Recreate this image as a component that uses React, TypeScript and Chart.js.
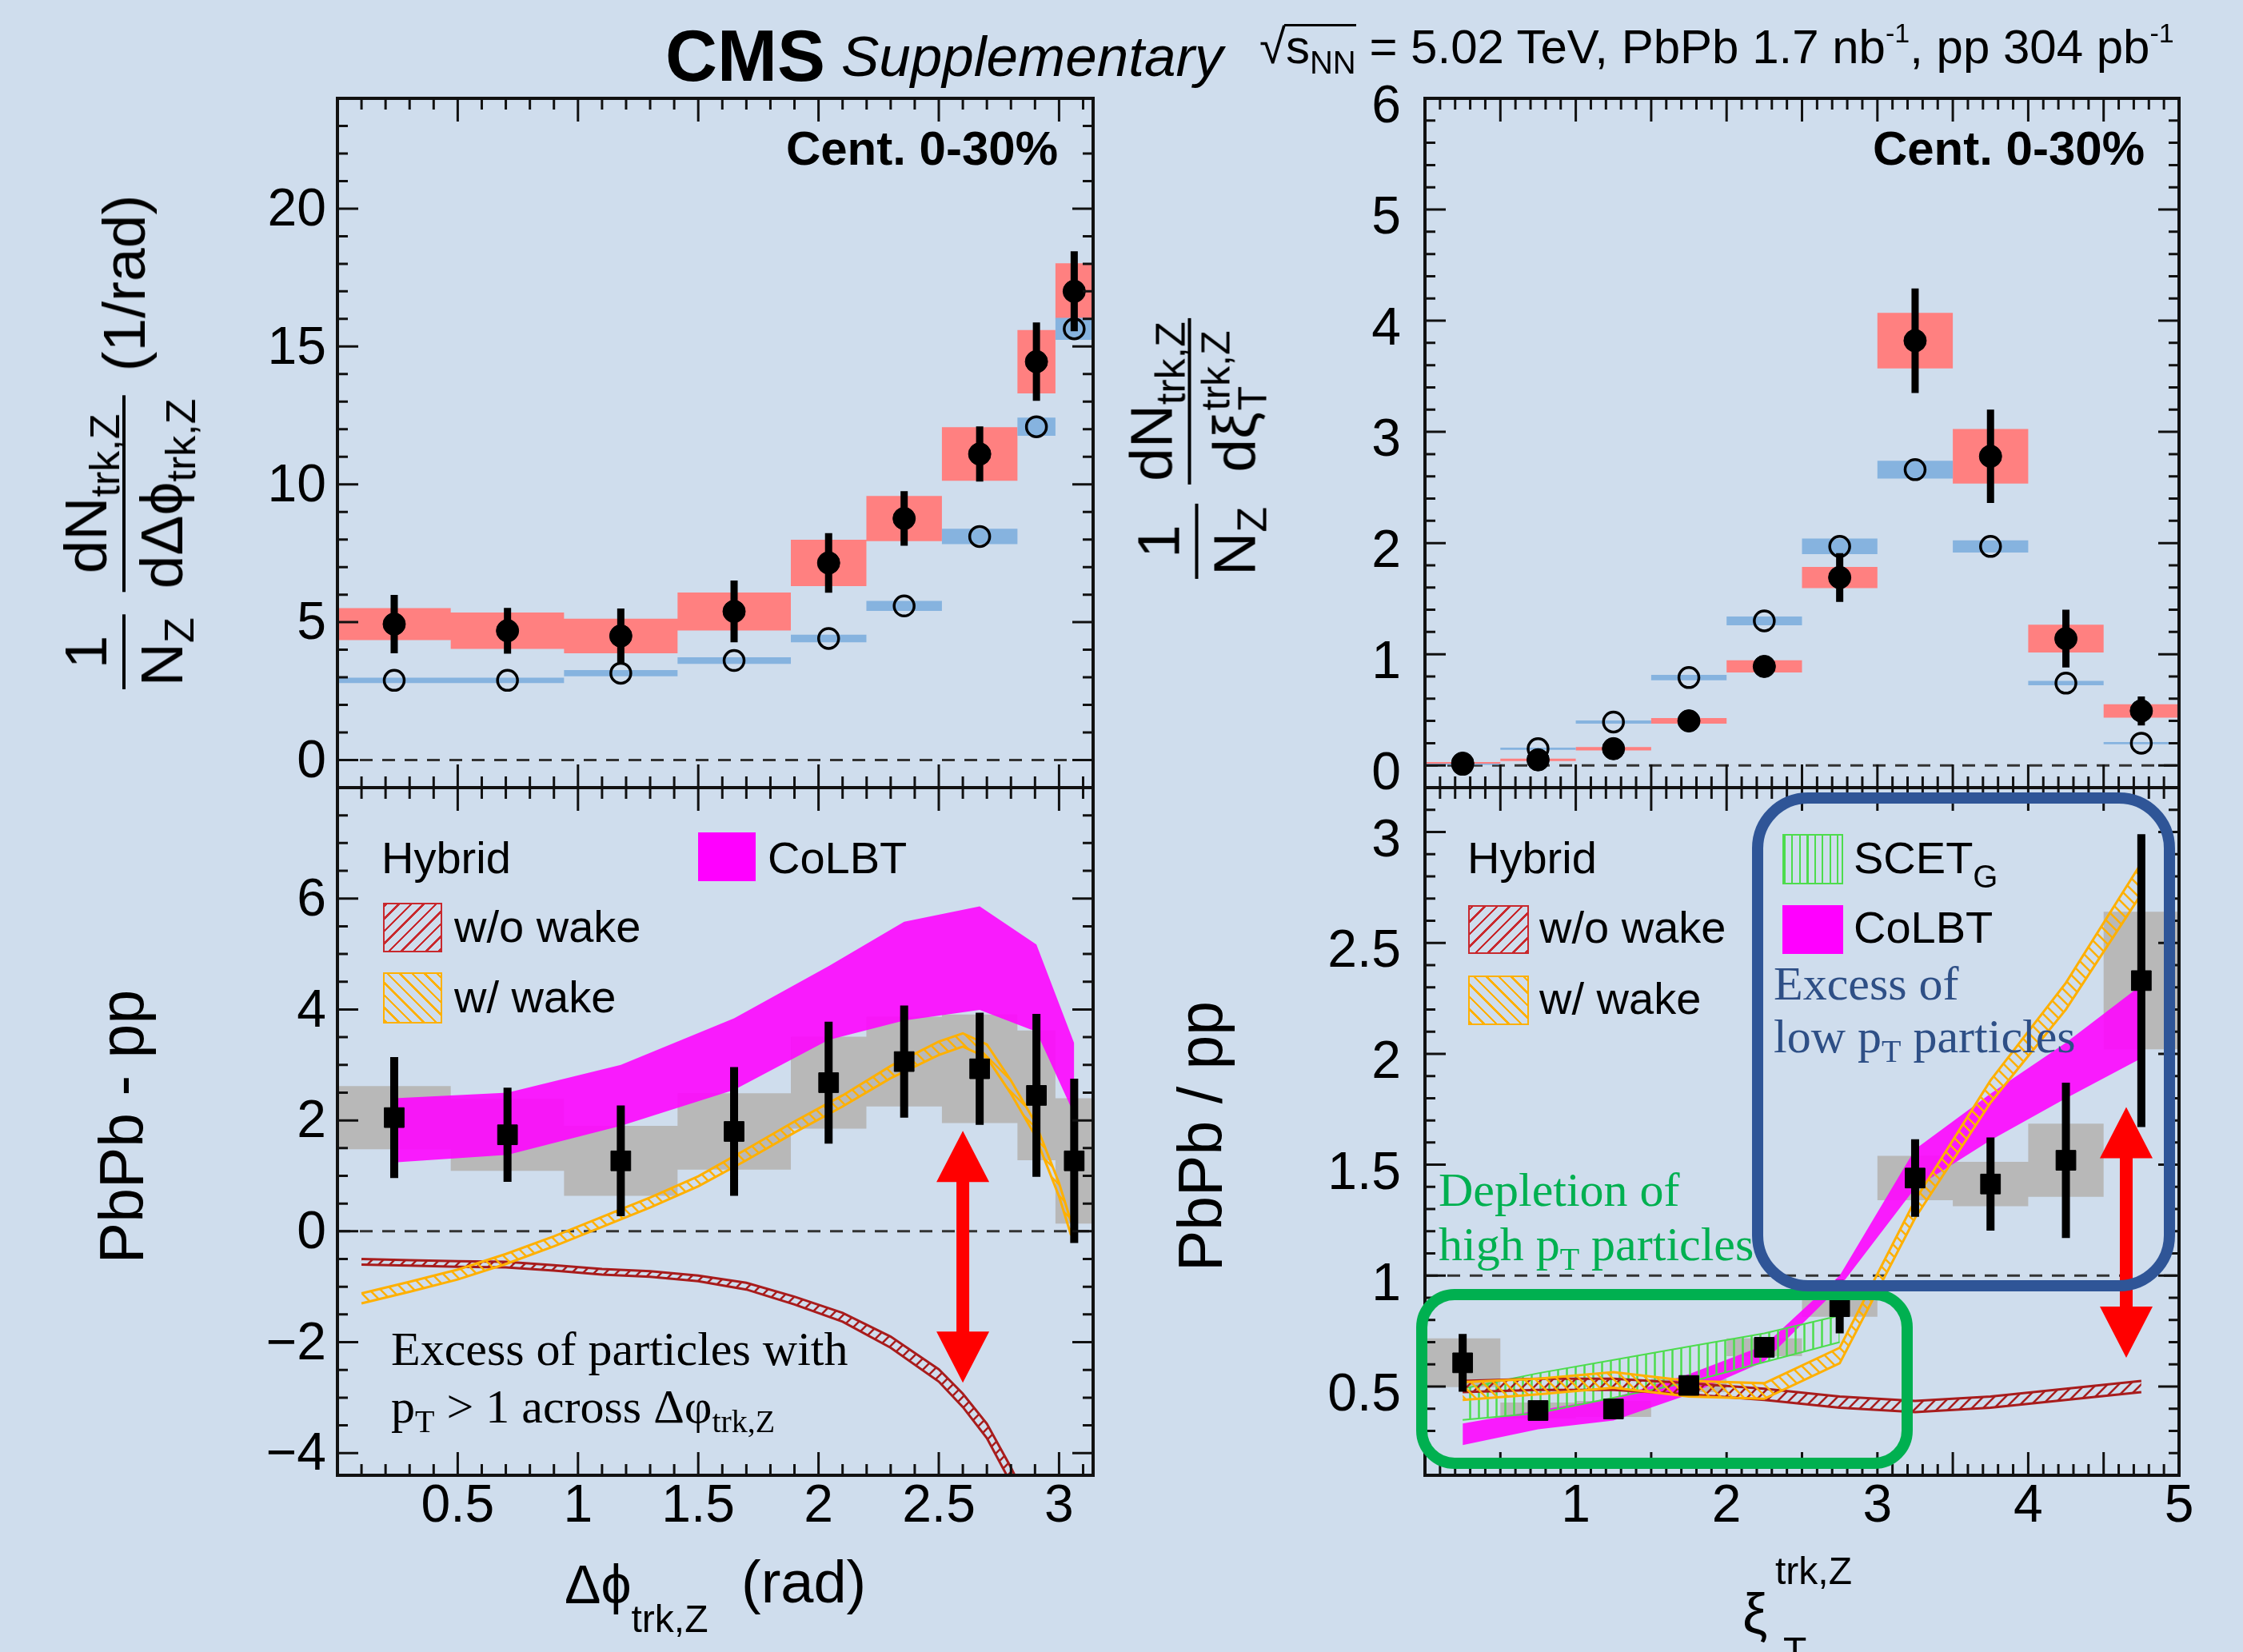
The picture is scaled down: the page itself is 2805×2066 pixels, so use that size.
import React, { useEffect, useRef } from 'react';
import { Chart, registerables } from 'chart.js';

Chart.register(...registerables);

const W = 2805;
const H = 2066;
const SANS = '"Liberation Sans", Arial, Helvetica, sans-serif';
const SERIF = '"Liberation Serif", "Times New Roman", serif';
const BG = '#cfdded';

// ---------------- Δφ (left) panels ----------------
const dphiBinEdges = [0, 0.471, 0.942, 1.414, 1.885, 2.199, 2.513, 2.827, 2.985, 3.1416];
const dphiBinCenters = [0.236, 0.707, 1.178, 1.649, 2.042, 2.356, 2.67, 2.906, 3.063];
const dphiPbPb = [4.93, 4.69, 4.5, 5.39, 7.15, 8.76, 11.1, 14.45, 17.0];
const dphiPbPbStat = [1.06, 0.83, 1.0, 1.12, 1.08, 0.99, 1.0, 1.42, 1.45];
const dphiPbPbSyst = [0.58, 0.66, 0.63, 0.69, 0.84, 0.82, 0.97, 1.15, 1.02];
const dphiPP = [2.89, 2.89, 3.15, 3.61, 4.41, 5.59, 8.11, 12.09, 15.64];
const dphiPPSyst = [0.1, 0.1, 0.11, 0.12, 0.14, 0.18, 0.28, 0.33, 0.4];

const dphiDiff = [2.05, 1.74, 1.27, 1.8, 2.68, 3.06, 2.93, 2.45, 1.27];
const dphiDiffStat = [1.09, 0.85, 1.0, 1.16, 1.1, 1.01, 1.01, 1.47, 1.48];
const dphiDiffSyst = [0.57, 0.65, 0.63, 0.69, 0.83, 0.81, 0.98, 1.17, 1.13];
const dphiColbtHigh = [2.4, 2.5, 3.0, 3.84, 4.78, 5.58, 5.86, 5.17, 3.39];
const dphiColbtLow = [1.24, 1.38, 1.9, 2.55, 3.45, 3.8, 3.99, 3.6, 2.11];

const hybridPhiX = [0.1, 0.3, 0.5, 0.7, 0.9, 1.1, 1.3, 1.5, 1.7, 1.9, 2.1, 2.3, 2.5, 2.6, 2.7, 2.8, 2.9, 3.0, 3.05];
const hybridPhiWake = [-1.21, -1.0, -0.78, -0.5, -0.18, 0.17, 0.52, 0.9, 1.38, 1.88, 2.35, 2.87, 3.3, 3.45, 3.25, 2.6, 1.85, 0.75, 0.05];
const hybridPhiWakeErr = [0.09, 0.09, 0.09, 0.09, 0.09, 0.09, 0.09, 0.09, 0.1, 0.1, 0.1, 0.11, 0.12, 0.12, 0.12, 0.12, 0.12, 0.12, 0.12];
const hybridPhiNoWake = [-0.55, -0.57, -0.59, -0.6, -0.66, -0.73, -0.77, -0.85, -0.99, -1.25, -1.55, -2.0, -2.6, -3.05, -3.6, -4.4, -5.3, -6.3, -6.8];
const hybridPhiNoWakeErr = [0.05, 0.05, 0.05, 0.05, 0.05, 0.05, 0.05, 0.05, 0.06, 0.07, 0.08, 0.1, 0.11, 0.12, 0.13, 0.14, 0.15, 0.16, 0.16];

const dphiArrow = { x: 2.6, from: 1.81, to: -2.73 };

// ---------------- ξ (right) panels ----------------
const xiBinEdges = [0, 0.5, 1, 1.5, 2, 2.5, 3, 3.5, 4, 4.5, 5];
const xiBinCenters = [0.25, 0.75, 1.25, 1.75, 2.25, 2.75, 3.25, 3.75, 4.25, 4.75];
const xiPbPb = [0.02, 0.05, 0.15, 0.4, 0.89, 1.69, 3.82, 2.78, 1.14, 0.49];
const xiPbPbStat = [0.01, 0.02, 0.03, 0.04, 0.06, 0.22, 0.47, 0.42, 0.26, 0.13];
const xiPbPbSyst = [0.01, 0.01, 0.015, 0.025, 0.055, 0.095, 0.25, 0.245, 0.125, 0.06];
const xiPP = [0.01, 0.15, 0.39, 0.79, 1.3, 1.97, 2.66, 1.97, 0.74, 0.2];
const xiPPSyst = [0.005, 0.01, 0.015, 0.025, 0.04, 0.07, 0.08, 0.055, 0.02, 0.01];

const xiRatio = [0.607, 0.392, 0.399, 0.505, 0.677, 0.86, 1.44, 1.413, 1.52, 2.33];
const xiRatioStat = [0.13, 0.02, 0.02, 0.02, 0.04, 0.12, 0.175, 0.21, 0.35, 0.66];
const xiRatioSyst = [0.11, 0.036, 0.036, 0.03, 0.04, 0.045, 0.1, 0.1, 0.165, 0.31];
const xiColbtHigh = [0.333, 0.393, 0.45, 0.556, 0.686, 1.0, 1.57, 1.82, 2.05, 2.31];
const xiColbtLow = [0.236, 0.307, 0.347, 0.464, 0.613, 0.95, 1.395, 1.61, 1.8, 1.98];
const scetX = [0.25, 0.75, 1.25, 1.75, 2.25, 2.75];
const scetHigh = [0.49, 0.56, 0.62, 0.68, 0.74, 0.82];
const scetLow = [0.35, 0.38, 0.45, 0.52, 0.61, 0.7];
const xiHybridWake = [0.48, 0.5, 0.53, 0.49, 0.48, 0.64, 1.3, 1.83, 2.26, 2.79];
const xiHybridWakeErr = [0.04, 0.035, 0.035, 0.035, 0.035, 0.035, 0.04, 0.05, 0.06, 0.07];
const xiHybridNoWake = [0.5, 0.51, 0.51, 0.49, 0.465, 0.43, 0.41, 0.43, 0.465, 0.5];
const xiHybridNoWakeErr = [0.025, 0.025, 0.025, 0.025, 0.025, 0.025, 0.025, 0.025, 0.025, 0.025];

const xiArrow = { x: 4.65, from: 1.76, to: 0.63 };

// ---------------- axes ----------------
const dphiXRange = [0, 3.1416];
const xiXRange = [0, 5];
const dphiYRange = [-1, 24];
const xiYRange = [-0.2, 6];
const diffYRange = [-4.4, 8];
const ratioYRange = [0.1, 3.2];
const dphiXTickLabels = [0.5, 1, 1.5, 2, 2.5, 3];
const xiXTickLabels = [1, 2, 3, 4, 5];
const dphiYTickLabels = [0, 5, 10, 15, 20];
const xiYTickLabels = [0, 1, 2, 3, 4, 5, 6];
const diffYTickLabels = [-4, -2, 0, 2, 4, 6];
const ratioYTickLabels = [0.5, 1, 1.5, 2, 2.5, 3];

// ---------------- colors ----------------
const RED_BOX = '#ff8080';
const BLUE_BOX = '#86b3df';
const GRAY_BOX = '#b8b8b8';
const MAGENTA = 'rgba(255,0,255,0.88)';
const NOWAKE = '#a81c1c';
const WAKE = '#ffb000';
const SCET = '#4ddc4d';

// ---------------- geometry ----------------
const GX = { L0: 422, L1: 1367, R0: 1782, R1: 2725, T0: 123, M: 985, B1: 1845 };
const ML = 180;
const MT = 110;
const MR = 60;

function canvasBox(x0: number, x1: number, y0: number, y1: number, mb: number) {
  return { left: x0 - ML, top: y0 - MT, width: x1 - x0 + ML + MR, height: y1 - y0 + MT + mb };
}

const BOX_TL = canvasBox(GX.L0, GX.L1, GX.T0, GX.M, 110);
const BOX_TR = canvasBox(GX.R0, GX.R1, GX.T0, GX.M, 110);
const BOX_BL = canvasBox(GX.L0, GX.L1, GX.M, GX.B1, 150);
const BOX_BR = canvasBox(GX.R0, GX.R1, GX.M, GX.B1, 150);

// ---------------- helpers ----------------
function stepPoints(edges: number[], vals: number[]) {
  const pts: any[] = [];
  vals.forEach((v, i) => {
    pts.push({ x: edges[i], y: v }, { x: edges[i + 1], y: v });
  });
  return pts;
}

function boxPair(edges: number[], center: number[], half: number[], color: any, order: number) {
  return [
    { data: stepPoints(edges, center.map((c, i) => c + half[i])), borderColor: 'transparent', borderWidth: 0, pointRadius: 0, fill: false, order },
    { data: stepPoints(edges, center.map((c, i) => c - half[i])), borderColor: 'transparent', borderWidth: 0, pointRadius: 0, backgroundColor: color, fill: '-1', order },
  ];
}

function bandPair(xs: number[], hi: number[], lo: number[], fillColor: any, lineColor: string, lw: number, order: number) {
  return [
    { data: xs.map((x, i) => ({ x, y: hi[i] })), borderColor: lineColor, borderWidth: lw, pointRadius: 0, fill: false, order },
    { data: xs.map((x, i) => ({ x, y: lo[i] })), borderColor: lineColor, borderWidth: lw, pointRadius: 0, backgroundColor: fillColor, fill: '-1', order },
  ];
}

function errorBars(xs: number[], ys: number[], err: number[], width: number, order: number) {
  const pts: any[] = [];
  xs.forEach((x, i) => {
    pts.push({ x, y: ys[i] - err[i] }, { x, y: ys[i] + err[i] }, { x, y: null });
  });
  return { data: pts, borderColor: '#000', borderWidth: width, pointRadius: 0, fill: false, spanGaps: false, borderCapStyle: 'butt', order };
}

function markers(xs: number[], ys: number[], style: string, radius: number, open: boolean, order: number) {
  return {
    data: xs.map((x, i) => ({ x, y: ys[i] })),
    showLine: false,
    pointStyle: style,
    pointRadius: radius,
    pointBackgroundColor: open ? 'rgba(0,0,0,0)' : '#000',
    pointBorderColor: '#000',
    pointBorderWidth: open ? 3.5 : 1,
    order,
  };
}

function refLine(y: number, range: number[], order: number) {
  return {
    data: [{ x: range[0], y }, { x: range[1], y }],
    borderColor: '#333',
    borderWidth: 3,
    borderDash: [16, 12],
    pointRadius: 0,
    fill: false,
    order,
  };
}

function makeHatch(color: string, kind: string, s: number, lw: number) {
  const c = document.createElement('canvas');
  c.width = s;
  c.height = s;
  const g = c.getContext('2d')!;
  g.strokeStyle = color;
  g.lineWidth = lw;
  g.beginPath();
  if (kind === 'v') {
    g.moveTo(s / 2, 0);
    g.lineTo(s / 2, s);
  } else if (kind === '/') {
    g.moveTo(0, s); g.lineTo(s, 0);
    g.moveTo(-2, 2); g.lineTo(2, -2);
    g.moveTo(s - 2, s + 2); g.lineTo(s + 2, s - 2);
  } else {
    g.moveTo(0, 0); g.lineTo(s, s);
    g.moveTo(-2, s - 2); g.lineTo(2, s + 2);
    g.moveTo(s - 2, -2); g.lineTo(s + 2, 2);
  }
  g.stroke();
  return g.createPattern(c, 'repeat');
}

const framePlugin = {
  id: 'rootFrame',
  afterDatasetsDraw(chart: any, _args: any, opts: any) {
    const { ctx, chartArea: a, scales } = chart;
    const xs = scales.x;
    const ys = scales.y;
    const each = (min: number, max: number, step: number, fn: (v: number) => void) => {
      const i0 = Math.ceil(min / step - 1e-6);
      const i1 = Math.floor(max / step + 1e-6);
      for (let i = i0; i <= i1; i++) fn(i * step);
    };
    const isMajor = (v: number, m: number) => Math.abs(v / m - Math.round(v / m)) < 1e-6;
    ctx.save();
    ctx.strokeStyle = '#111';
    ctx.lineWidth = 3;
    ctx.setLineDash([]);
    ctx.beginPath();
    each(xs.min, xs.max, opts.xMinor, (v) => {
      const len = isMajor(v, opts.xMajor) ? 29 : 14;
      const px = xs.getPixelForValue(v);
      if (px <= a.left + 2 || px >= a.right - 2) return;
      ctx.moveTo(px, a.bottom); ctx.lineTo(px, a.bottom - len);
      ctx.moveTo(px, a.top); ctx.lineTo(px, a.top + len);
    });
    each(ys.min, ys.max, opts.yMinor, (v) => {
      const len = isMajor(v, opts.yMajor) ? 26 : 13;
      const py = ys.getPixelForValue(v);
      if (py <= a.top + 2 || py >= a.bottom - 2) return;
      ctx.moveTo(a.left, py); ctx.lineTo(a.left + len, py);
      ctx.moveTo(a.right, py); ctx.lineTo(a.right - len, py);
    });
    ctx.stroke();
    ctx.lineWidth = 4;
    ctx.strokeRect(a.left, a.top, a.right - a.left, a.bottom - a.top);
    ctx.restore();
  },
};

const arrowPlugin = {
  id: 'redArrow',
  afterDatasetsDraw(chart: any, _args: any, opts: any) {
    if (!opts || opts.x === undefined || opts.x === null) return;
    const { ctx, scales } = chart;
    const px = scales.x.getPixelForValue(opts.x);
    const p1 = scales.y.getPixelForValue(opts.from);
    const p2 = scales.y.getPixelForValue(opts.to);
    const hw = 33;
    const hh = 64;
    const sw = 8;
    ctx.save();
    ctx.fillStyle = '#ff0000';
    ctx.beginPath();
    ctx.moveTo(px, p1);
    ctx.lineTo(px + hw, p1 + hh);
    ctx.lineTo(px + sw, p1 + hh);
    ctx.lineTo(px + sw, p2 - hh);
    ctx.lineTo(px + hw, p2 - hh);
    ctx.lineTo(px, p2);
    ctx.lineTo(px - hw, p2 - hh);
    ctx.lineTo(px - sw, p2 - hh);
    ctx.lineTo(px - sw, p1 + hh);
    ctx.lineTo(px - hw, p1 + hh);
    ctx.closePath();
    ctx.fill();
    ctx.restore();
  },
};

const fmt = (v: number) => {
  const r = Math.round(v * 100) / 100;
  return r < 0 ? '\u2212' + String(Math.abs(r)) : String(r);
};

function buildOptions(p: any) {
  return {
    animation: false,
    responsive: false,
    maintainAspectRatio: false,
    events: [],
    layout: { padding: { top: MT, right: MR, left: 0, bottom: 0 } },
    plugins: {
      legend: { display: false },
      tooltip: { enabled: false },
      rootFrame: p.frame,
      redArrow: p.arrow || {},
    },
    scales: {
      x: {
        type: 'linear',
        min: p.xRange[0],
        max: p.xRange[1],
        border: { display: false },
        grid: { display: false, drawTicks: false },
        afterBuildTicks: (s: any) => { s.ticks = p.xTicks.map((v: number) => ({ value: v })); },
        afterFit: (s: any) => { s.height = p.mb; },
        ticks: {
          display: p.showX,
          autoSkip: false,
          maxRotation: 0,
          minRotation: 0,
          padding: 0,
          color: '#000',
          font: { family: SANS, size: 66 },
          callback: fmt,
        },
      },
      y: {
        type: 'linear',
        min: p.yRange[0],
        max: p.yRange[1],
        border: { display: false },
        grid: { display: false, drawTicks: false },
        afterBuildTicks: (s: any) => { s.ticks = p.yTicks.map((v: number) => ({ value: v })); },
        afterFit: (s: any) => { s.width = ML; },
        ticks: {
          autoSkip: false,
          padding: p.yPad,
          labelOffset: p.yOff,
          color: '#000',
          font: { family: SANS, size: 66 },
          callback: fmt,
        },
      },
    },
  };
}

// ---------------- text helpers ----------------
const Txt = (props: any) => {
  const { x, base, size, serif, bold, italic, color = '#000', right, children } = props;
  const k = serif ? 0.838 : 0.846;
  const style: any = {
    position: 'absolute',
    top: base - k * size,
    fontSize: size,
    lineHeight: `${size}px`,
    fontFamily: serif ? SERIF : SANS,
    fontWeight: bold ? 700 : 400,
    fontStyle: italic ? 'italic' : 'normal',
    color,
    whiteSpace: 'nowrap',
  };
  if (right) style.right = W - x; else style.left = x;
  return <div style={style}>{children}</div>;
};

const Sh = ({ fs, dy, children }: any) => (
  <span style={{ fontSize: fs, position: 'relative', top: dy, lineHeight: 0 }}>{children}</span>
);

const Frac = ({ num, den }: any) => (
  <span style={{ display: 'inline-flex', flexDirection: 'column', alignItems: 'center' }}>
    <span style={{ padding: '0 4px 8px' }}>{num}</span>
    <span style={{ alignSelf: 'stretch', height: 4, background: '#000' }} />
    <span style={{ padding: '8px 4px 0' }}>{den}</span>
  </span>
);

const RotTitle = ({ cx, cy, size, children }: any) => (
  <div
    style={{
      position: 'absolute',
      left: cx,
      top: cy,
      transform: 'translate(-50%, -50%) rotate(-90deg)',
      display: 'flex',
      alignItems: 'center',
      fontFamily: SANS,
      fontSize: size,
      lineHeight: `${size}px`,
      whiteSpace: 'nowrap',
      color: '#000',
    }}
  >
    {children}
  </div>
);

const Swatch = ({ x, y, w, h, bg, border }: any) => (
  <div
    style={{
      position: 'absolute',
      left: x,
      top: y,
      width: w,
      height: h,
      boxSizing: 'border-box',
      background: bg,
      border: border ? `2.5px solid ${border}` : 'none',
    }}
  />
);

const RoundBox = ({ x0, y0, x1, y1, lw, r, color }: any) => (
  <div
    style={{
      position: 'absolute',
      left: x0 - lw / 2,
      top: y0 - lw / 2,
      width: x1 - x0 + lw,
      height: y1 - y0 + lw,
      boxSizing: 'border-box',
      border: `${lw}px solid ${color}`,
      borderRadius: r,
    }}
  />
);

const canvasStyle = (b: any): any => ({ position: 'absolute', left: b.left, top: b.top, width: b.width, height: b.height });

export default function App() {
  const tl = useRef<HTMLCanvasElement>(null);
  const tr = useRef<HTMLCanvasElement>(null);
  const bl = useRef<HTMLCanvasElement>(null);
  const br = useRef<HTMLCanvasElement>(null);

  useEffect(() => {
    Chart.defaults.font.family = SANS;
    const hatchNoWake = makeHatch(NOWAKE, '/', 14, 2.5);
    const hatchWake = makeHatch(WAKE, '\\', 14, 2.5);
    const hatchScet = makeHatch(SCET, 'v', 11, 2.5);
    const charts: Chart[] = [];

    const tlSets = [
      refLine(0, dphiXRange, 95),
      ...boxPair(dphiBinEdges, dphiPbPb, dphiPbPbSyst, RED_BOX, 80),
      ...boxPair(dphiBinEdges, dphiPP, dphiPPSyst, BLUE_BOX, 70),
      errorBars(dphiBinCenters, dphiPbPb, dphiPbPbStat, 9, 20),
      markers(dphiBinCenters, dphiPP, 'circle', 12.5, true, 15),
      markers(dphiBinCenters, dphiPbPb, 'circle', 14, false, 10),
    ];
    const trSets = [
      refLine(0, xiXRange, 95),
      ...boxPair(xiBinEdges, xiPbPb, xiPbPbSyst, RED_BOX, 80),
      ...boxPair(xiBinEdges, xiPP, xiPPSyst, BLUE_BOX, 70),
      errorBars(xiBinCenters, xiPbPb, xiPbPbStat, 9, 20),
      markers(xiBinCenters, xiPP, 'circle', 12.5, true, 15),
      markers(xiBinCenters, xiPbPb, 'circle', 14, false, 10),
    ];
    const blSets = [
      ...boxPair(dphiBinEdges, dphiDiff, dphiDiffSyst, GRAY_BOX, 100),
      refLine(0, dphiXRange, 95),
      ...bandPair(dphiBinCenters, dphiColbtHigh, dphiColbtLow, MAGENTA, 'transparent', 0, 90),
      ...bandPair(hybridPhiX, hybridPhiNoWake.map((v, i) => v + hybridPhiNoWakeErr[i]), hybridPhiNoWake.map((v, i) => v - hybridPhiNoWakeErr[i]), hatchNoWake, NOWAKE, 3, 70),
      ...bandPair(hybridPhiX, hybridPhiWake.map((v, i) => v + hybridPhiWakeErr[i]), hybridPhiWake.map((v, i) => v - hybridPhiWakeErr[i]), hatchWake, WAKE, 3, 60),
      errorBars(dphiBinCenters, dphiDiff, dphiDiffStat, 10, 20),
      markers(dphiBinCenters, dphiDiff, 'rect', 17.5, false, 10),
    ];
    const brSets = [
      ...boxPair(xiBinEdges, xiRatio, xiRatioSyst, GRAY_BOX, 100),
      refLine(1, xiXRange, 95),
      ...bandPair(xiBinCenters, xiColbtHigh, xiColbtLow, MAGENTA, 'transparent', 0, 90),
      ...bandPair(scetX, scetHigh, scetLow, hatchScet, SCET, 2, 80),
      ...bandPair(xiBinCenters, xiHybridNoWake.map((v, i) => v + xiHybridNoWakeErr[i]), xiHybridNoWake.map((v, i) => v - xiHybridNoWakeErr[i]), hatchNoWake, NOWAKE, 3, 70),
      ...bandPair(xiBinCenters, xiHybridWake.map((v, i) => v + xiHybridWakeErr[i]), xiHybridWake.map((v, i) => v - xiHybridWakeErr[i]), hatchWake, WAKE, 3, 60),
      errorBars(xiBinCenters, xiRatio, xiRatioStat, 10, 20),
      markers(xiBinCenters, xiRatio, 'rect', 17.5, false, 10),
    ];

    const mk = (el: HTMLCanvasElement | null, sets: any[], p: any) => {
      if (!el) return;
      charts.push(
        new Chart(el, {
          type: 'line',
          data: { datasets: sets as any },
          options: buildOptions(p) as any,
          plugins: [arrowPlugin, framePlugin] as any,
        })
      );
    };

    mk(tl.current, tlSets, {
      xRange: dphiXRange, yRange: dphiYRange, xTicks: [], yTicks: dphiYTickLabels, showX: false, mb: 110, yPad: 14, yOff: 3,
      frame: { xMajor: 0.5, xMinor: 0.1, yMajor: 5, yMinor: 1 },
    });
    mk(tr.current, trSets, {
      xRange: xiXRange, yRange: xiYRange, xTicks: [], yTicks: xiYTickLabels, showX: false, mb: 110, yPad: 30, yOff: 12,
      frame: { xMajor: 0.5, xMinor: 0.1, yMajor: 1, yMinor: 0.2 },
    });
    mk(bl.current, blSets, {
      xRange: dphiXRange, yRange: diffYRange, xTicks: dphiXTickLabels, yTicks: diffYTickLabels, showX: true, mb: 150, yPad: 14, yOff: 3,
      frame: { xMajor: 0.5, xMinor: 0.1, yMajor: 2, yMinor: 0.5 },
      arrow: dphiArrow,
    });
    mk(br.current, brSets, {
      xRange: xiXRange, yRange: ratioYRange, xTicks: xiXTickLabels, yTicks: ratioYTickLabels, showX: true, mb: 150, yPad: 30, yOff: 12,
      frame: { xMajor: 0.5, xMinor: 0.1, yMajor: 0.5, yMinor: 0.1 },
      arrow: xiArrow,
    });

    return () => {
      charts.forEach((c) => c.destroy());
    };
  }, []);

  const SUPM1 = (
    <span style={{ fontSize: 34, position: 'relative', top: -26, lineHeight: 0 }}>-1</span>
  );

  return (
    <div style={{ position: 'fixed', left: 0, top: 0, width: W, height: H, background: BG, overflow: 'hidden' }}>
      <canvas ref={tl} width={BOX_TL.width} height={BOX_TL.height} style={canvasStyle(BOX_TL)} />
      <canvas ref={tr} width={BOX_TR.width} height={BOX_TR.height} style={canvasStyle(BOX_TR)} />
      <canvas ref={bl} width={BOX_BL.width} height={BOX_BL.height} style={canvasStyle(BOX_BL)} />
      <canvas ref={br} width={BOX_BR.width} height={BOX_BR.height} style={canvasStyle(BOX_BR)} />

      {/* header */}
      <Txt x={832} base={101} size={90} bold>CMS</Txt>
      <Txt x={1052} base={95} size={71} italic>Supplementary</Txt>
      <Txt x={1575} base={80} size={60}>
        <span>{'\u221A'}</span>
        <span style={{ position: 'relative' }}>
          s<Sh fs={40} dy={13}>NN</Sh>
          <span style={{ position: 'absolute', left: -2, right: 0, top: 5, height: 3, background: '#000' }} />
        </span>
        {' = 5.02 TeV, PbPb 1.7 nb'}
        {SUPM1}
        {', pp 304 pb'}
        {SUPM1}
      </Txt>

      {/* centrality labels */}
      <Txt x={1323} base={207} size={60} bold right>Cent. 0-30%</Txt>
      <Txt x={2682} base={207} size={60} bold right>Cent. 0-30%</Txt>

      {/* left legend */}
      <Txt x={477} base={1092} size={56}>Hybrid</Txt>
      <Swatch x={479} y={1129} w={74} h={62} border="#c8282d" bg="repeating-linear-gradient(-45deg, #c8282d 0 2.5px, transparent 2.5px 11px)" />
      <Txt x={568} base={1178} size={56}>w/o wake</Txt>
      <Swatch x={479} y={1216} w={74} h={64} border={WAKE} bg={`repeating-linear-gradient(45deg, ${WAKE} 0 2.5px, transparent 2.5px 11px)`} />
      <Txt x={568} base={1266} size={56}>w/ wake</Txt>
      <Swatch x={873} y={1041} w={72} h={61} bg="#ff00ff" />
      <Txt x={960} base={1092} size={56}>CoLBT</Txt>

      {/* right legend */}
      <Txt x={1835} base={1092} size={56}>Hybrid</Txt>
      <Swatch x={1836} y={1132} w={76} h={61} border="#c8282d" bg="repeating-linear-gradient(-45deg, #c8282d 0 2.5px, transparent 2.5px 11px)" />
      <Txt x={1925} base={1179} size={56}>w/o wake</Txt>
      <Swatch x={1836} y={1220} w={76} h={62} border={WAKE} bg={`repeating-linear-gradient(45deg, ${WAKE} 0 2.5px, transparent 2.5px 11px)`} />
      <Txt x={1925} base={1268} size={56}>w/ wake</Txt>
      <Swatch x={2229} y={1043} w={76} h={63} border={SCET} bg={`repeating-linear-gradient(90deg, ${SCET} 0 2px, transparent 2px 9.5px)`} />
      <Txt x={2318} base={1092} size={56}>
        SCET<Sh fs={40} dy={18}>G</Sh>
      </Txt>
      <Swatch x={2229} y={1132} w={76} h={61} bg="#ff00ff" />
      <Txt x={2318} base={1179} size={56}>CoLBT</Txt>

      {/* annotation texts */}
      <Txt x={489} base={1707} size={60} serif>Excess of particles with</Txt>
      <Txt x={489} base={1779} size={60} serif>
        p<Sh fs={40} dy={12}>T</Sh>{' > 1 across \u0394\u03C6'}<Sh fs={40} dy={12}>trk,Z</Sh>
      </Txt>
      <Txt x={1799} base={1508} size={60} serif color="#00b050">Depletion of</Txt>
      <Txt x={1799} base={1576} size={60} serif color="#00b050">
        high p<Sh fs={40} dy={12}>T</Sh> particles
      </Txt>
      <Txt x={2218} base={1250} size={60} serif color="#2e4f86">Excess of</Txt>
      <Txt x={2218} base={1316} size={60} serif color="#2e4f86">
        low p<Sh fs={40} dy={12}>T</Sh> particles
      </Txt>

      {/* rounded highlight boxes */}
      <RoundBox x0={1778} y0={1619} x1={2385} y1={1830} lw={14} r={48} color="#00b050" />
      <RoundBox x0={2198} y0={998} x1={2713} y1={1608} lw={14} r={70} color="#2f5597" />

      {/* x titles */}
      <Txt x={706} base={2005} size={68}>
        {'\u0394\u03D5'}<Sh fs={48} dy={36}>trk,Z</Sh>
      </Txt>
      <Txt x={927} base={2005} size={74}>(rad)</Txt>
      <Txt x={2179} base={2042} size={70}>{'\u03BE'}</Txt>
      <Txt x={2220} base={1982} size={48}>trk,Z</Txt>
      <Txt x={2230} base={2082} size={48}>T</Txt>

      {/* y titles */}
      <RotTitle cx={155} cy={553} size={75}>
        <Frac num={<span>1</span>} den={<span>N<Sh fs={52} dy={14}>Z</Sh></span>} />
        <span style={{ width: 28, display: 'inline-block' }} />
        <Frac
          num={<span>dN<Sh fs={52} dy={16}>trk,Z</Sh></span>}
          den={<span>d{'\u0394\u03D5'}<Sh fs={52} dy={16}>trk,Z</Sh></span>}
        />
        <span style={{ marginLeft: 30 }}>(1/rad)</span>
      </RotTitle>
      <RotTitle cx={1496} cy={561} size={75}>
        <Frac num={<span>1</span>} den={<span>N<Sh fs={52} dy={14}>Z</Sh></span>} />
        <span style={{ width: 24, display: 'inline-block' }} />
        <Frac
          num={<span>dN<Sh fs={52} dy={16}>trk,Z</Sh></span>}
          den={
            <span style={{ display: 'inline-flex', alignItems: 'center' }}>
              d{'\u03BE'}
              <span style={{ display: 'inline-flex', flexDirection: 'column', fontSize: 50, lineHeight: '46px', marginLeft: 2 }}>
                <span>trk,Z</span>
                <span>T</span>
              </span>
            </span>
          }
        />
      </RotTitle>
      <RotTitle cx={152} cy={1409} size={77}>PbPb - pp</RotTitle>
      <RotTitle cx={1501} cy={1421} size={77}>PbPb / pp</RotTitle>
    </div>
  );
}
